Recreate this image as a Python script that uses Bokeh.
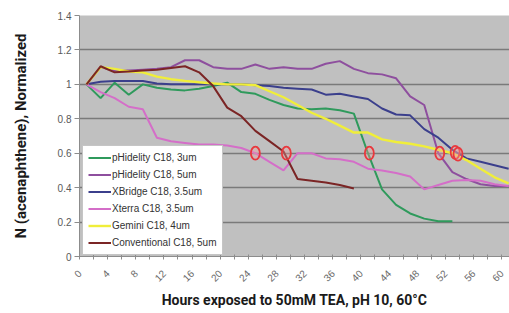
import math
from bokeh.plotting import figure
from bokeh.models import Range1d, FixedTicker, Legend, LegendItem
from bokeh.embed import file_html
from bokeh.resources import INLINE

# ---- data ----
hours = [0, 2, 4, 6, 8, 10, 12, 14, 16, 18, 20, 22, 24, 26, 28, 30,
         32, 34, 36, 38, 40, 42, 44, 46, 48, 50, 52, 54, 56, 58, 60]

phid3 = [1.0, 0.92, 1.01, 0.94, 1.0, 0.98, 0.97, 0.965, 0.975, 0.99, 1.01,
         0.955, 0.945, 0.91, 0.88, 0.86, 0.855, 0.86, 0.85, 0.83, 0.6, 0.39,
         0.3, 0.25, 0.22, 0.205, 0.205]
phid5 = [1.0, 1.10, 1.08, 1.08, 1.085, 1.09, 1.10, 1.14, 1.14, 1.10, 1.09,
         1.09, 1.115, 1.09, 1.10, 1.09, 1.09, 1.12, 1.135, 1.09, 1.065, 1.058,
         1.035, 0.93, 0.88, 0.6, 0.49, 0.45, 0.42, 0.41, 0.41]
xbridge = [1.0, 1.015, 1.02, 1.02, 1.02, 1.005, 1.0, 1.0, 1.0, 1.0, 1.0,
           1.0, 0.995, 0.99, 0.98, 0.975, 0.97, 0.94, 0.945, 0.93, 0.915, 0.86,
           0.825, 0.82, 0.74, 0.69, 0.62, 0.57, 0.55, 0.53, 0.51]
xterra = [1.0, 0.955, 0.92, 0.87, 0.855, 0.69, 0.67, 0.66, 0.65, 0.65, 0.645,
          0.63, 0.60, 0.55, 0.50, 0.60, 0.60, 0.57, 0.565, 0.55, 0.51, 0.50,
          0.485, 0.465, 0.39, 0.415, 0.44, 0.445, 0.44, 0.42, 0.41]
gemini = [1.0, 1.10, 1.09, 1.075, 1.07, 1.045, 1.03, 1.02, 1.012, 1.005, 1.0,
          1.0, 0.995, 0.96, 0.925, 0.88, 0.835, 0.80, 0.76, 0.72, 0.72, 0.68,
          0.665, 0.655, 0.64, 0.62, 0.60, 0.56, 0.51, 0.46, 0.425]
conventional = [1.0, 1.105, 1.07, 1.075, 1.08, 1.085, 1.095, 1.105, 1.07, 0.99,
                0.865, 0.815, 0.73, 0.67, 0.61, 0.45, 0.44, 0.43, 0.415, 0.395]

series_names = ["pHidelity C18, 3um", "pHidelity C18, 5um", "XBridge C18, 3.5um",
                "Xterra C18, 3.5um", "Gemini C18, 4um", "Conventional C18, 5um"]
series_values = [phid3, phid5, xbridge, xterra, gemini, conventional]
series_colors = ["#2f9a5c", "#8e4f9e", "#3b3f8c", "#d46ec8", "#f0ee3a", "#7b2525"]

# points where each series falls to 0.6 (red circles)
cross_hours = [24.0, 28.4, 40.2, 50.2, 52.4, 52.8]
cross_values = [0.6, 0.6, 0.6, 0.6, 0.605, 0.595]

y_ticks = [0, 0.2, 0.4, 0.6, 0.8, 1, 1.2, 1.4]
y_tick_labels = ["0", "0.2", "0.4", "0.6", "0.8", "1", "1.2", "1.4"]
x_ticks = [0, 4, 8, 12, 16, 20, 24, 28, 32, 36, 40, 44, 48, 52, 56, 60]
x_tick_labels = ["0", "4", "8", "12", "16", "20", "24", "28", "32", "36",
                 "40", "44", "48", "52", "56", "60"]
# category boundaries (Excel-style tick marks between categories)
x_minor = [h - 1 for h in hours]
# rotated labels sit one hour left of their category centre, as in the original
x_label_pos = [t - 1 for t in x_ticks]

# ---- figure ----
p = figure(width=509, height=313, output_backend="svg", toolbar_location=None,
           x_range=Range1d(-1, 60.12), y_range=Range1d(0, 1.4),
           min_border_left=79, min_border_right=0, min_border_top=15,
           min_border_bottom=57)
p.background_fill_color = "#c0c0c0"
p.border_fill_color = "white"
p.outline_line_color = None

p.xgrid.grid_line_color = None
p.ygrid.ticker = FixedTicker(ticks=y_ticks[1:-1])
p.ygrid.grid_line_color = "#7a7a7a"
p.ygrid.grid_line_width = 1.6

title_font = "Roboto"

p.yaxis.ticker = FixedTicker(ticks=y_ticks)
p.yaxis.major_label_overrides = dict(zip(y_ticks, y_tick_labels))
p.yaxis.minor_tick_line_color = None
p.yaxis.major_tick_in = 0
p.yaxis.major_tick_out = 5
p.yaxis.axis_line_color = "#8c8c8c"
p.yaxis.major_tick_line_color = "#8c8c8c"
p.yaxis.major_label_text_font = "Liberation Sans"
p.yaxis.major_label_text_font_size = "10px"
p.yaxis.major_label_text_color = "#595959"
p.yaxis.major_label_standoff = 3
p.yaxis.axis_label = "N (acenaphthene), Normalized"
p.yaxis.axis_label_text_font = title_font
p.yaxis.axis_label_text_font_style = "bold"
p.yaxis.axis_label_text_font_size = "15px"
p.yaxis.axis_label_text_color = "#1a1a1a"
p.yaxis.axis_label_standoff = 25

p.xaxis.ticker = FixedTicker(ticks=x_label_pos, minor_ticks=x_minor)
p.xaxis.major_label_overrides = dict(zip(x_label_pos, x_tick_labels))
p.xaxis.major_tick_in = 0
p.xaxis.major_tick_out = 0
p.xaxis.minor_tick_in = 2
p.xaxis.minor_tick_out = 3
p.xaxis.minor_tick_line_color = "#8c8c8c"
p.xaxis.axis_line_color = "#8c8c8c"
p.xaxis.major_label_orientation = math.pi / 4
p.xaxis.major_label_text_font = "Liberation Sans"
p.xaxis.major_label_text_font_size = "10px"
p.xaxis.major_label_text_color = "#6a6a6a"
p.xaxis.major_label_standoff = 12
p.xaxis.axis_label = "Hours exposed to 50mM TEA, pH 10, 60°C"
p.xaxis.axis_label_text_font = title_font
p.xaxis.axis_label_text_font_style = "bold"
p.xaxis.axis_label_text_font_size = "14px"
p.xaxis.axis_label_text_color = "#1a1a1a"
p.xaxis.axis_label_standoff = 4

items = []
for name, vals, col in zip(series_names, series_values, series_colors):
    r = p.line(hours[:len(vals)], vals, line_color=col,
               line_width=2.4 if col == "#f0ee3a" else 2.0)
    items.append(LegendItem(label=name, renderers=[r]))

p.ellipse(x=cross_hours, y=cross_values, width=9, height=13,
          width_units="screen", height_units="screen",
          line_color="#e8383d", line_width=1.8,
          fill_color="#f4a0a0", fill_alpha=0.35)

legend = Legend(items=items, location=(3, 1))
legend.border_line_color = "#8c8c8c"
legend.border_line_width = 1
legend.background_fill_color = "white"
legend.background_fill_alpha = 1.0
legend.label_text_font = "Liberation Sans"
legend.label_text_font_size = "10px"
legend.label_text_color = "#333333"
legend.glyph_width = 23
legend.glyph_height = 13
legend.label_height = 13
legend.spacing = 4
legend.padding = 5
legend.margin = 0
legend.label_standoff = 1
p.add_layout(legend)

open("out.html", "w").write(file_html(p, INLINE))
